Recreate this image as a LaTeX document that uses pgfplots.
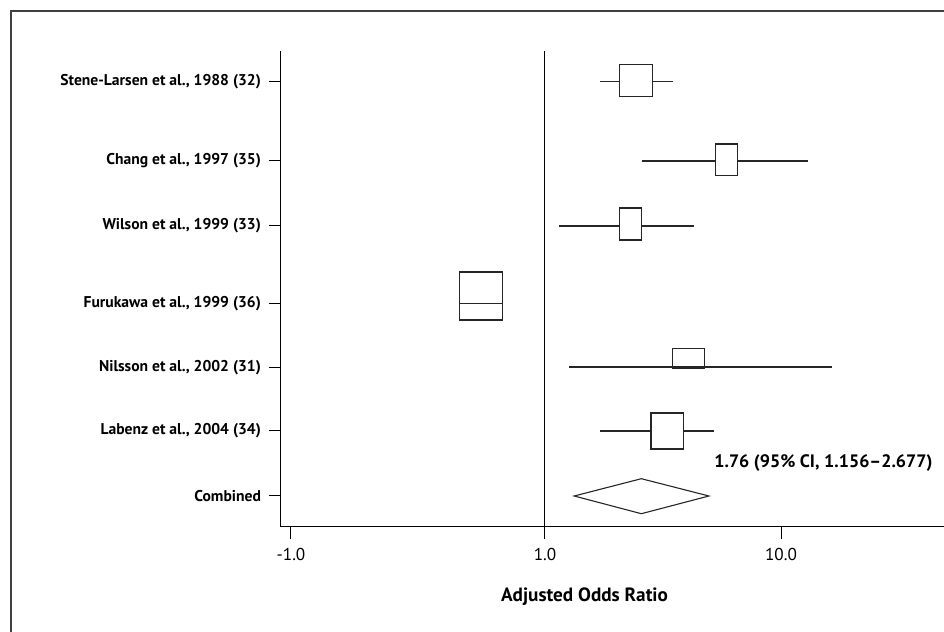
\documentclass[border=0pt]{standalone}
\usepackage{pgfplots}
\pgfplotsset{compat=1.18}
\usepackage{fontspec}
\setmainfont{PT Sans}
\begin{document}
\begin{tikzpicture}[x=1pt,y=1pt]
\clip (0,0) rectangle (472,316);
\path[use as bounding box] (0,0) rectangle (472,316);
\draw[black!75, line width=0.6pt] (5.5,310.5) rectangle (480,-10);
\begin{axis}[
  at={(140.5pt,52.5pt)}, anchor=south west,
  scale only axis, width=331.5pt, height=238pt,
  xmode=log, xmin=0.0761, xmax=49.06, ymin=105, ymax=581,
  axis lines*=left, axis line style={-, line width=0.5pt},
  clip=false,
  xtick={0.0839,1,10}, xticklabels={-1.0,1.0,10.0},
  ytick={550.5,471,406,328.7,264,201,136},
  yticklabels={{Stene-Larsen et al., 1988 (32)},{Chang et al., 1997 (35)},{Wilson et al., 1999 (33)},{Furukawa et al., 1999 (36)},{Nilsson et al., 2002 (31)},{Labenz et al., 2004 (34)},{Combined}},
  minor xtick={},
  tick align=outside, major tick length=6pt,
  tick style={black, line width=0.5pt},
  xticklabel style={font=\fontsize{8.6}{10}\selectfont, yshift=-1pt},
  yticklabel style={font=\bfseries\fontsize{7.8}{9}\selectfont, xshift=-0.5pt},
  xlabel={Adjusted Odds Ratio},
  xlabel style={font=\bfseries\fontsize{9.6}{11}\selectfont, at={(axis description cs:0.4578,-0.147)}, anchor=center},
]
% vertical reference line at OR = 1
\addplot[black, line width=0.5pt] coordinates {(1,105) (1,581)};
% confidence intervals
\addplot[black!85, line width=0.55pt] coordinates {(1.715,550.5) (3.48,550.5)};
\addplot[black!85, line width=0.55pt] coordinates {(2.57,471) (13.05,471)};
\addplot[black!85, line width=0.55pt] coordinates {(1.146,406) (4.28,406)};
\addplot[black!85, line width=0.55pt] coordinates {(0.436,328.7) (0.659,328.7)};
\addplot[black!85, line width=0.55pt] coordinates {(1.264,265) (16.40,265)};
\addplot[black!85, line width=0.55pt] coordinates {(1.71,201) (5.20,201)};
% boxes
\addplot[black!85, fill=white, line width=0.55pt] coordinates {(2.073,535.3) (2.849,535.3) (2.849,567.7) (2.073,567.7) (2.073,535.3)} --cycle;
\addplot[black!85, fill=white, line width=0.55pt] coordinates {(5.30,456.3) (6.53,456.3) (6.53,488) (5.30,488) (5.30,456.3)} --cycle;
\addplot[black!85, fill=white, line width=0.55pt] coordinates {(2.064,392) (2.559,392) (2.559,424) (2.064,424) (2.064,392)} --cycle;
\addplot[black!85, fill=white, line width=0.55pt] coordinates {(0.436,312) (0.659,312) (0.659,360) (0.436,360) (0.436,312)} --cycle;
\addplot[black!85, line width=0.55pt] coordinates {(0.436,328.7) (0.659,328.7)};
\addplot[black!85, fill=white, line width=0.55pt] coordinates {(3.463,263.7) (4.750,263.7) (4.750,283.3) (3.463,283.3) (3.463,263.7)} --cycle;
\addplot[black!85, line width=0.55pt] coordinates {(3.463,265) (4.750,265)};
\addplot[black!85, fill=white, line width=0.55pt] coordinates {(2.813,183) (3.88,183) (3.88,219) (2.813,219) (2.813,183)} --cycle;
% combined diamond
\addplot[black!85, fill=white, line width=0.55pt] coordinates {(1.33,136) (2.56,153.3) (4.95,136) (2.56,118.3) (1.33,136)} --cycle;
\node[anchor=west, font=\bfseries\fontsize{9}{11}\selectfont, inner sep=0pt] at (axis cs:5.2,168.5) {1.76 (95\% CI, 1.156--2.677)};
\end{axis}
\end{tikzpicture}
\end{document}
